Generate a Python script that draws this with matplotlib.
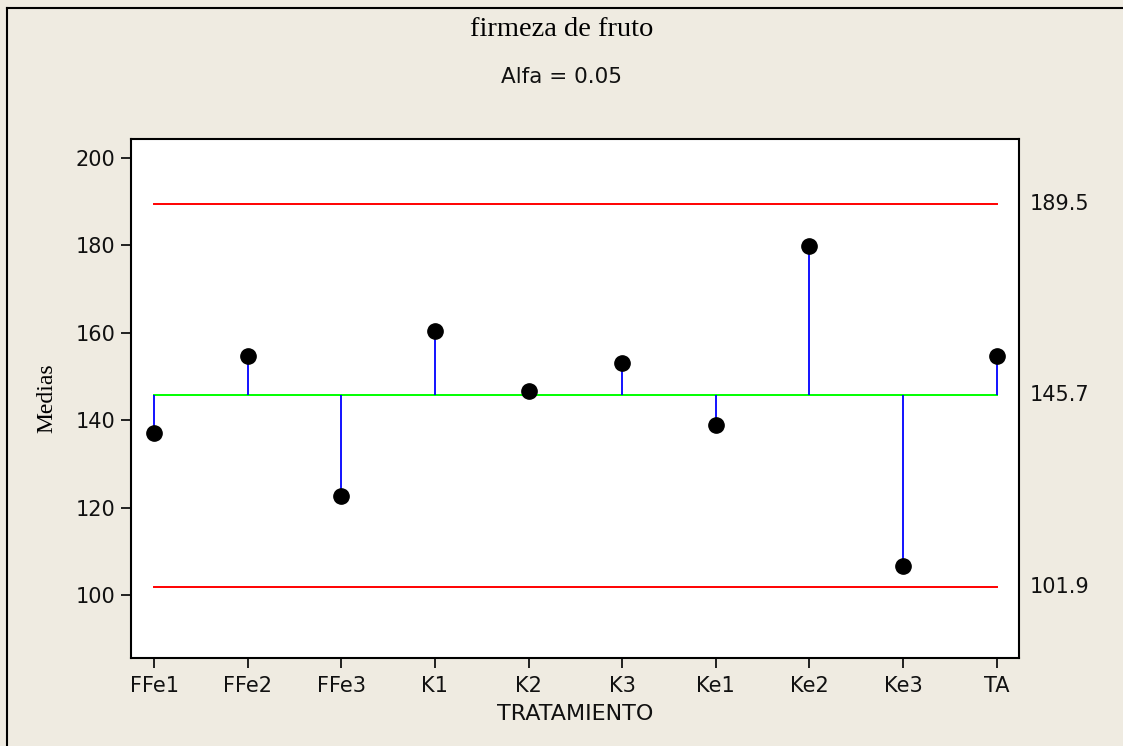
import matplotlib
matplotlib.use("Agg")
import matplotlib.pyplot as plt
from matplotlib.lines import Line2D

categories = ["FFe1", "FFe2", "FFe3", "K1", "K2", "K3", "Ke1", "Ke2", "Ke3", "TA"]
means = [137.1, 154.6, 122.6, 160.3, 146.6, 153.0, 139.0, 179.9, 106.6, 154.6]
center = 145.7
upper = 189.5
lower = 101.9
yticks = [100, 120, 140, 160, 180, 200]

W, H = 1123, 746
fig = plt.figure(figsize=(W / 100, H / 100), dpi=100)
bg = "#EFEBE1"
fig.patch.set_facecolor(bg)

ax = fig.add_axes([130.7 / W, 1 - 657.7 / H, (1019 - 130.7) / W, (657.7 - 139) / H])
ax.set_facecolor("white")

x = list(range(1, len(categories) + 1))
ax.plot([1, len(categories)], [upper, upper], color="#FF0000", lw=1.4)
ax.plot([1, len(categories)], [lower, lower], color="#FF0000", lw=1.4)
ax.plot([1, len(categories)], [center, center], color="#00FF00", lw=1.4, zorder=2)
ax.vlines(x, center, means, color="#0000FF", lw=1.3, zorder=3)
ax.plot(x, means, "o", color="black", markersize=11, zorder=4)

ax.set_xlim(0.751, 10.238)
ax.set_ylim(85.7, 204.3)
ax.set_xticks(x)
ax.set_xticklabels(categories)
ax.set_yticks(yticks)
for s in ax.spines.values():
    s.set_linewidth(1.5)
    s.set_color("black")
ax.tick_params(direction="out", length=7, width=1.3, labelsize=15, pad=4, colors="#111111")
ax.tick_params(axis="x", pad=6)

ax.set_xlabel("TRATAMIENTO", fontsize=16, labelpad=6, color="#111111")
ax.set_ylabel("Medias", fontsize=17, family="Liberation Serif", labelpad=13)

trans = ax.get_yaxis_transform()
for v in (upper, center, lower):
    ax.text(1.012, v, f"{v:.1f}", transform=trans, fontsize=15, va="center", ha="left", color="#111111")

fig.text(0.5, 1 - 30 / H, "firmeza de fruto", ha="center", va="center", fontsize=20.5, family="Liberation Serif")
fig.text(0.5, 1 - 77 / H, "Alfa = 0.05", ha="center", va="center", fontsize=15.5, color="#111111")

fig.add_artist(Line2D([7 / W, 7 / W], [0, 1 - 8 / H], transform=fig.transFigure, color="black", lw=1.5))
fig.add_artist(Line2D([7 / W, 1], [1 - 8 / H, 1 - 8 / H], transform=fig.transFigure, color="black", lw=1.5))

fig.savefig("out.png", dpi=100, facecolor=bg)
